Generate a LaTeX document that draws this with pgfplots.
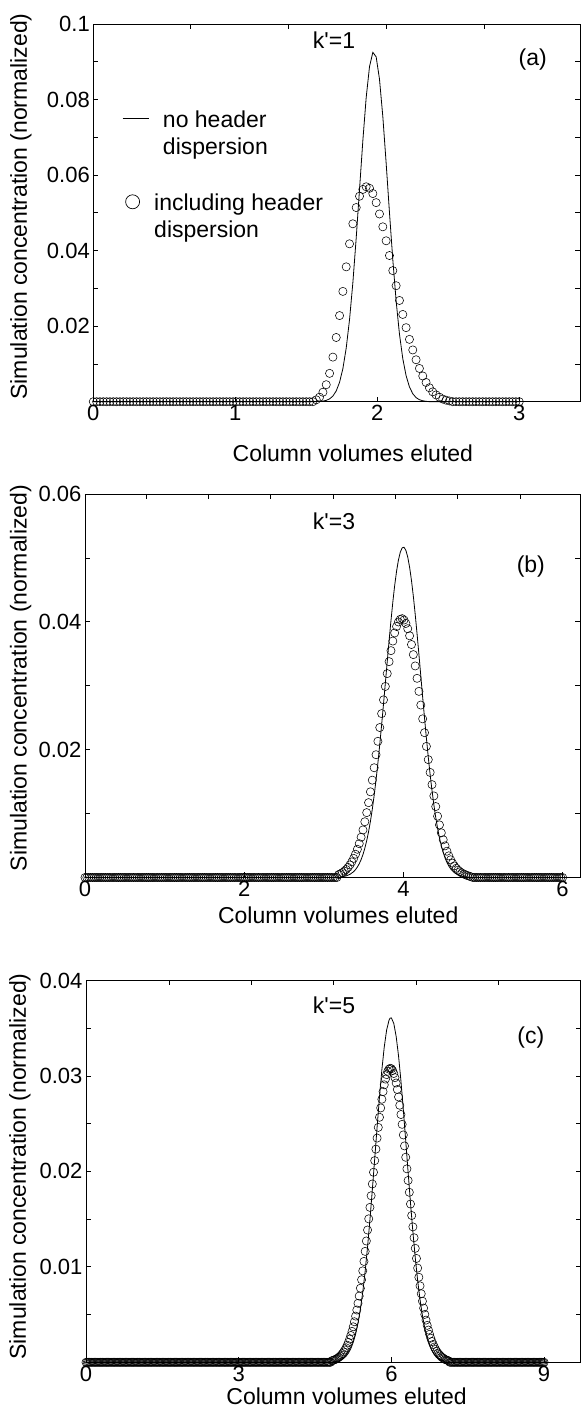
\documentclass[border=0pt]{standalone}
\usepackage{fontspec}
\setmainfont{Liberation Sans}
\usepackage{pgfplots}
\pgfplotsset{compat=1.18}
\pgfplotsset{
  panel/.style={
    scale only axis, clip=false,
    axis line style={line width=0.8pt},
    tick style={line width=0.7pt, black},
    tick align=inside, major tick length=5pt,
    tick label style={font=\fontsize{22}{24}\selectfont},
    label style={font=\fontsize{23}{26}\selectfont},
    /pgf/number format/assume math mode=true,
    scaled ticks=false,
    xtick pos=left, ymin=0,
  },
  topticks/.style={
    scale only axis,
    axis x line*=top, hide y axis, ymin=0, ymax=1,
    xticklabels={}, tick align=inside, major tick length=5pt,
    tick style={line width=0.7pt, black},
    axis line style={draw=none},
  },
  leg/.style={legend style={draw=none, fill=none, anchor=north west,
    font=\fontsize{23}{26.7}\selectfont, inner sep=0pt}, legend cell align=left},
  circ/.style={only marks, mark=o, mark size=4.1pt, mark options={line width=0.55pt, black}, black},
  curve/.style={black, line width=0.8pt, mark=none},
}
\begin{document}
\begin{tikzpicture}
% ---------------- panel (a) ----------------
\begin{axis}[panel, leg, at={(93.3pt,1006.3pt)}, anchor=south west, width=487pt, height=377.7pt,
  xmin=0, xmax=3.43, ymax=0.1,
  xtick={0,1,2,3}, xticklabels={0,1,2,3},
  ytick={0,0.01,0.02,0.03,0.04,0.05,0.06,0.07,0.08,0.09,0.1},
  yticklabels={,,0.02,,0.04,,0.06,,0.08,,0.1},
  xlabel={Column volumes eluted}, ylabel={Simulation concentration (normalized)},
  xlabel style={at={(axis description cs:0.533,-0.136)}, anchor=center},
  ylabel style={at={(axis description cs:-0.1485,0.517)}, anchor=center},
  legend style={at={(axis description cs:0.0589,0.7816)}}]
\addplot[curve, legend image code/.code={\draw[black, line width=0.8pt] (0pt,0pt) -- (26pt,0pt);}] coordinates {
(0,0)(1.5469,0)(1.5703,0.00003)(1.5938,0.00007)(1.6172,0.00015)(1.6406,0.00035)(1.6641,0.00074)(1.6875,0.00149)(1.7109,0.00284)(1.7344,0.00514)(1.7578,0.00876)(1.7813,0.0142)(1.8047,0.02175)(1.8281,0.0315)(1.8516,0.0433)(1.875,0.0562)(1.8984,0.0691)(1.9219,0.0805)(1.9453,0.0887)(1.9688,0.0925)(1.9922,0.0913)(2.0156,0.0854)(2.0391,0.0755)(2.0625,0.0632)(2.0859,0.0501)(2.1094,0.0376)(2.1328,0.0267)(2.1563,0.0179)(2.1797,0.0114)(2.2031,0.00688)(2.2266,0.00392)(2.25,0.00211)(2.2734,0.00108)(2.2969,0.00052)(2.3203,0.00024)(2.3438,0.0001)(2.3672,0)(3,0)
};
\addlegendentry{\hspace{12pt}\begin{tabular}[t]{@{}l@{}}no header\\dispersion\end{tabular}}
\addplot[circ, forget plot] coordinates {
(0,0)(0.0234,0)(0.0469,0)(0.0703,0)(0.0938,0)(0.1172,0)(0.1406,0)(0.1641,0)(0.1875,0)(0.2109,0)(0.2344,0)(0.2578,0)(0.2813,0)(0.3047,0)(0.3281,0)(0.3516,0)
(0.375,0)(0.3984,0)(0.4219,0)(0.4453,0)(0.4688,0)(0.4922,0)(0.5156,0)(0.5391,0)(0.5625,0)(0.5859,0)(0.6094,0)(0.6328,0)(0.6563,0)(0.6797,0)(0.7031,0)(0.7266,0)
(0.75,0)(0.7734,0)(0.7969,0)(0.8203,0)(0.8438,0)(0.8672,0)(0.8906,0)(0.9141,0)(0.9375,0)(0.9609,0)(0.9844,0)(1.0078,0)(1.0313,0)(1.0547,0)(1.0781,0)(1.1016,0)
(1.125,0)(1.1484,0)(1.1719,0)(1.1953,0)(1.2188,0)(1.2422,0)(1.2656,0)(1.2891,0)(1.3125,0)(1.3359,0)(1.3594,0)(1.3828,0)(1.4063,0)(1.4297,0)(1.4531,0)(1.4766,0)
(1.5,0)(1.5234,0)(1.5469,0)
(1.5703,0.0005)(1.5938,0.0012)(1.6172,0.0025)(1.6406,0.0045)(1.6641,0.0075)(1.6875,0.0118)(1.7109,0.0170)(1.7344,0.0228)(1.7578,0.0292)(1.7813,0.0357)(1.8047,0.0418)(1.8281,0.0471)(1.8516,0.0514)(1.875,0.0544)(1.8984,0.0562)(1.9219,0.0569)(1.9453,0.0565)(1.9688,0.0551)(1.9922,0.0527)(2.0156,0.0497)(2.0391,0.0463)(2.0625,0.0426)(2.0859,0.0387)(2.1094,0.0347)(2.1328,0.0307)(2.1563,0.0268)(2.1797,0.0231)(2.2031,0.0196)(2.2266,0.0165)(2.25,0.0137)(2.2734,0.0111)(2.2969,0.0088)(2.3203,0.0068)(2.3438,0.0051)(2.3672,0.0037)(2.3906,0.0026)(2.4141,0.0018)(2.4375,0.0012)(2.4609,0.0007)(2.4844,0.0004)(2.5078,0.0002)
(2.5313,0)(2.5547,0)(2.5781,0)(2.6016,0)
(2.625,0)(2.6484,0)(2.6719,0)(2.6953,0)(2.7188,0)(2.7422,0)(2.7656,0)(2.7891,0)(2.8125,0)(2.8359,0)(2.8594,0)(2.8828,0)(2.9063,0)(2.9297,0)(2.9531,0)(2.9766,0)(3,0)
};
\end{axis}
\begin{axis}[topticks, leg, at={(93.3pt,1006.3pt)}, anchor=south west, width=487pt, height=377.7pt,
  xmin=0, xmax=3.43, xtick={0.681,1.373,2.061,2.751},
  legend style={at={(axis description cs:0.0598,0.5618)}}]
\addlegendimage{legend image code/.code={\path[draw=none] (0pt,0pt) -- (26pt,0pt); \draw[black, line width=0.7pt] (10pt,0pt) circle (7pt);}}
\addlegendentry{\hspace{3.6pt}\begin{tabular}[t]{@{}l@{}}including header\\dispersion\end{tabular}}
\end{axis}
% ---------------- panel (b) ----------------
\begin{axis}[panel, at={(85pt,530.5pt)}, anchor=south west, width=495.5pt, height=383.5pt,
  xmin=0, xmax=6.225, ymax=0.06,
  xtick={0,2,4,6}, xticklabels={0,2,4,6},
  ytick={0,0.01,0.02,0.03,0.04,0.05,0.06},
  yticklabels={,,0.02,,0.04,,0.06},
  xlabel={Column volumes eluted}, ylabel={Simulation concentration (normalized)},
  xlabel style={at={(axis description cs:0.511,-0.098)}, anchor=center},
  ylabel style={at={(axis description cs:-0.130,0.520)}, anchor=center}]
\addplot[curve] coordinates {
(0,0)(3.1875,0)(3.2344,0.00012)(3.2813,0.00025)(3.3281,0.00049)(3.375,0.00091)(3.3984,0.00123)(3.4219,0.00164)(3.4453,0.00215)(3.4688,0.0028)(3.4922,0.0036)(3.5156,0.00458)(3.5391,0.00576)(3.5625,0.00716)(3.5859,0.00879)(3.6094,0.01069)(3.6328,0.01284)(3.6563,0.01526)(3.6797,0.01791)(3.7031,0.0208)(3.7266,0.02389)(3.75,0.02711)(3.7734,0.03042)(3.7969,0.03376)(3.8203,0.03704)(3.8438,0.04018)(3.8672,0.04309)(3.8906,0.04569)(3.9141,0.0479)(3.9375,0.04965)(3.9609,0.05089)(3.9844,0.05157)(4.0078,0.05167)(4.0313,0.05118)(4.0547,0.05013)(4.0781,0.04854)(4.1016,0.04647)(4.125,0.044)(4.1484,0.04118)(4.1719,0.0381)(4.1953,0.03487)(4.2188,0.03153)(4.2422,0.0282)(4.2656,0.02494)(4.2891,0.0218)(4.3125,0.01885)(4.3359,0.01611)(4.3594,0.01361)(4.3828,0.01138)(4.4063,0.0094)(4.4297,0.00768)(4.4531,0.0062)(4.4766,0.00495)(4.5,0.00391)(4.5234,0.00305)(4.5469,0.00235)(4.5703,0.00179)(4.5938,0.00135)(4.6406,0.00075)(4.6875,0.00039)(4.7344,0.0002)(4.7813,0.00009)(4.8281,0)(6,0)
};
\addplot[circ] coordinates {
(0,0)(0.0234,0)(0.0469,0)(0.0703,0)(0.0938,0)(0.1172,0)(0.1406,0)(0.1641,0)(0.1875,0)(0.2109,0)(0.2344,0)(0.2578,0)(0.2813,0)(0.3047,0)(0.3281,0)(0.3516,0)
(0.375,0)(0.3984,0)(0.4219,0)(0.4453,0)(0.4688,0)(0.4922,0)(0.5156,0)(0.5391,0)(0.5625,0)(0.5859,0)(0.6094,0)(0.6328,0)(0.6563,0)(0.6797,0)(0.7031,0)(0.7266,0)
(0.75,0)(0.7734,0)(0.7969,0)(0.8203,0)(0.8438,0)(0.8672,0)(0.8906,0)(0.9141,0)(0.9375,0)(0.9609,0)(0.9844,0)(1.0078,0)(1.0313,0)(1.0547,0)(1.0781,0)(1.1016,0)
(1.125,0)(1.1484,0)(1.1719,0)(1.1953,0)(1.2188,0)(1.2422,0)(1.2656,0)(1.2891,0)(1.3125,0)(1.3359,0)(1.3594,0)(1.3828,0)(1.4063,0)(1.4297,0)(1.4531,0)(1.4766,0)
(1.5,0)(1.5234,0)(1.5469,0)(1.5703,0)(1.5938,0)(1.6172,0)(1.6406,0)(1.6641,0)(1.6875,0)(1.7109,0)(1.7344,0)(1.7578,0)(1.7813,0)(1.8047,0)(1.8281,0)(1.8516,0)
(1.875,0)(1.8984,0)(1.9219,0)(1.9453,0)(1.9688,0)(1.9922,0)(2.0156,0)(2.0391,0)(2.0625,0)(2.0859,0)(2.1094,0)(2.1328,0)(2.1563,0)(2.1797,0)(2.2031,0)(2.2266,0)
(2.25,0)(2.2734,0)(2.2969,0)(2.3203,0)(2.3438,0)(2.3672,0)(2.3906,0)(2.4141,0)(2.4375,0)(2.4609,0)(2.4844,0)(2.5078,0)(2.5313,0)(2.5547,0)(2.5781,0)(2.6016,0)
(2.625,0)(2.6484,0)(2.6719,0)(2.6953,0)(2.7188,0)(2.7422,0)(2.7656,0)(2.7891,0)(2.8125,0)(2.8359,0)(2.8594,0)(2.8828,0)(2.9063,0)(2.9297,0)(2.9531,0)(2.9766,0)
(3,0)(3.0234,0)(3.0469,0)(3.0703,0)(3.0938,0)(3.1172,0)(3.1406,0)(3.1641,0)
(3.1875,0.00046)(3.2109,0.0006)(3.2344,0.00077)(3.2578,0.00099)(3.2813,0.00125)(3.3047,0.00158)(3.3281,0.00197)(3.3516,0.00244)(3.375,0.00299)(3.3984,0.00364)(3.4219,0.00441)(3.4453,0.00529)(3.4688,0.0063)(3.4922,0.00744)(3.5156,0.00872)(3.5391,0.01015)(3.5625,0.01171)(3.5859,0.0134)(3.6094,0.01523)(3.6328,0.01717)(3.6563,0.01921)(3.6797,0.02131)(3.7031,0.02346)(3.7266,0.02564)(3.75,0.02779)(3.7734,0.02989)(3.7969,0.0319)(3.8203,0.03377)(3.8438,0.03549)(3.8672,0.03699)(3.8906,0.03826)(3.9141,0.03927)(3.9375,0.03998)(3.9609,0.04039)(3.9844,0.0405)(4.0078,0.04028)(4.0313,0.03975)(4.0547,0.03892)(4.0781,0.03782)(4.1016,0.03645)(4.125,0.03487)(4.1484,0.0331)(4.1719,0.03116)(4.1953,0.02912)(4.2188,0.02698)(4.2422,0.02482)(4.2656,0.02266)(4.2891,0.02051)(4.3125,0.01844)(4.3359,0.01644)(4.3594,0.01453)(4.3828,0.01276)(4.4063,0.0111)(4.4297,0.00959)(4.4531,0.00823)(4.4766,0.00699)(4.5,0.0059)(4.5234,0.00495)(4.5469,0.00411)(4.5703,0.00339)(4.5938,0.00277)(4.6172,0.00225)(4.6406,0.00181)(4.6641,0.00145)(4.6875,0.00115)(4.7109,0.0009)(4.7344,0.0007)(4.7578,0.00055)(4.7813,0.00042)(4.8047,0.0003)(4.8281,0.0002)(4.8516,0.0001)
(4.875,0)(4.8984,0)(4.9219,0)(4.9453,0)(4.9688,0)(4.9922,0)(5.0156,0)(5.0391,0)(5.0625,0)(5.0859,0)(5.1094,0)(5.1328,0)(5.1563,0)(5.1797,0)(5.2031,0)(5.2266,0)
(5.25,0)(5.2734,0)(5.2969,0)(5.3203,0)(5.3438,0)(5.3672,0)(5.3906,0)(5.4141,0)(5.4375,0)(5.4609,0)(5.4844,0)(5.5078,0)(5.5313,0)(5.5547,0)(5.5781,0)(5.6016,0)
(5.625,0)(5.6484,0)(5.6719,0)(5.6953,0)(5.7188,0)(5.7422,0)(5.7656,0)(5.7891,0)(5.8125,0)(5.8359,0)(5.8594,0)(5.8828,0)(5.9063,0)(5.9297,0)(5.9531,0)(5.9766,0)(6,0)
};
\end{axis}
\begin{axis}[topticks, at={(85pt,530.5pt)}, anchor=south west, width=495.5pt, height=383.5pt,
  xmin=0, xmax=6.225, xtick={0.766,1.549,2.333,3.120,3.894,4.682,5.474}]
\end{axis}
% ---------------- panel (c) ----------------
\begin{axis}[panel, at={(86pt,45.7pt)}, anchor=south west, width=494.5pt, height=381.8pt,
  xmin=0, xmax=9.715, ymax=0.04,
  xtick={0,3,6,9}, xticklabels={0,3,6,9},
  ytick={0,0.005,0.01,0.015,0.02,0.025,0.03,0.035,0.04},
  yticklabels={,,0.01,,0.02,,0.03,,0.04},
  xlabel={Column volumes eluted}, ylabel={Simulation concentration (normalized)},
  xlabel style={at={(axis description cs:0.527,-0.088)}, anchor=center},
  ylabel style={at={(axis description cs:-0.1335,0.513)}, anchor=center}]
\addplot[curve] coordinates {
(0,0)(4.8281,0)(4.875,0.00006)(4.9219,0.0001)(4.9688,0.00016)(5.0156,0.00026)(5.0625,0.00041)(5.1094,0.00064)(5.1563,0.00097)(5.2031,0.00144)(5.25,0.00209)(5.2969,0.00296)(5.3438,0.00411)(5.3906,0.00557)(5.4375,0.00738)(5.4844,0.00954)(5.5313,0.01208)(5.5781,0.01493)(5.625,0.01805)(5.6719,0.02132)(5.7188,0.02462)(5.7656,0.02778)(5.8125,0.03064)(5.8594,0.03303)(5.9063,0.03481)(5.9531,0.03584)(5.9766,0.03607)(6,0.03608)(6.0469,0.0355)(6.0938,0.03413)(6.1406,0.03208)(6.1875,0.02947)(6.2344,0.02646)(6.2813,0.02322)(6.3281,0.01992)(6.375,0.0167)(6.4219,0.01368)(6.4688,0.01095)(6.5156,0.00857)(6.5625,0.00656)(6.6094,0.00491)(6.6563,0.00358)(6.7031,0.00256)(6.75,0.00179)(6.7969,0.00122)(6.8438,0.00081)(6.8906,0.00053)(6.9375,0.00034)(6.9844,0.00021)(7.0313,0.00013)(7.0781,0)(9,0)
};
\addplot[circ] coordinates {
(0,0)(0.0234,0)(0.0469,0)(0.0703,0)(0.0938,0)(0.1172,0)(0.1406,0)(0.1641,0)(0.1875,0)(0.2109,0)(0.2344,0)(0.2578,0)(0.2813,0)(0.3047,0)(0.3281,0)(0.3516,0)
(0.375,0)(0.3984,0)(0.4219,0)(0.4453,0)(0.4688,0)(0.4922,0)(0.5156,0)(0.5391,0)(0.5625,0)(0.5859,0)(0.6094,0)(0.6328,0)(0.6563,0)(0.6797,0)(0.7031,0)(0.7266,0)
(0.75,0)(0.7734,0)(0.7969,0)(0.8203,0)(0.8438,0)(0.8672,0)(0.8906,0)(0.9141,0)(0.9375,0)(0.9609,0)(0.9844,0)(1.0078,0)(1.0313,0)(1.0547,0)(1.0781,0)(1.1016,0)
(1.125,0)(1.1484,0)(1.1719,0)(1.1953,0)(1.2188,0)(1.2422,0)(1.2656,0)(1.2891,0)(1.3125,0)(1.3359,0)(1.3594,0)(1.3828,0)(1.4063,0)(1.4297,0)(1.4531,0)(1.4766,0)
(1.5,0)(1.5234,0)(1.5469,0)(1.5703,0)(1.5938,0)(1.6172,0)(1.6406,0)(1.6641,0)(1.6875,0)(1.7109,0)(1.7344,0)(1.7578,0)(1.7813,0)(1.8047,0)(1.8281,0)(1.8516,0)
(1.875,0)(1.8984,0)(1.9219,0)(1.9453,0)(1.9688,0)(1.9922,0)(2.0156,0)(2.0391,0)(2.0625,0)(2.0859,0)(2.1094,0)(2.1328,0)(2.1563,0)(2.1797,0)(2.2031,0)(2.2266,0)
(2.25,0)(2.2734,0)(2.2969,0)(2.3203,0)(2.3438,0)(2.3672,0)(2.3906,0)(2.4141,0)(2.4375,0)(2.4609,0)(2.4844,0)(2.5078,0)(2.5313,0)(2.5547,0)(2.5781,0)(2.6016,0)
(2.625,0)(2.6484,0)(2.6719,0)(2.6953,0)(2.7188,0)(2.7422,0)(2.7656,0)(2.7891,0)(2.8125,0)(2.8359,0)(2.8594,0)(2.8828,0)(2.9063,0)(2.9297,0)(2.9531,0)(2.9766,0)
(3,0)(3.0234,0)(3.0469,0)(3.0703,0)(3.0938,0)(3.1172,0)(3.1406,0)(3.1641,0)(3.1875,0)(3.2109,0)(3.2344,0)(3.2578,0)(3.2813,0)(3.3047,0)(3.3281,0)(3.3516,0)
(3.375,0)(3.3984,0)(3.4219,0)(3.4453,0)(3.4688,0)(3.4922,0)(3.5156,0)(3.5391,0)(3.5625,0)(3.5859,0)(3.6094,0)(3.6328,0)(3.6563,0)(3.6797,0)(3.7031,0)(3.7266,0)
(3.75,0)(3.7734,0)(3.7969,0)(3.8203,0)(3.8438,0)(3.8672,0)(3.8906,0)(3.9141,0)(3.9375,0)(3.9609,0)(3.9844,0)(4.0078,0)(4.0313,0)(4.0547,0)(4.0781,0)(4.1016,0)
(4.125,0)(4.1484,0)(4.1719,0)(4.1953,0)(4.2188,0)(4.2422,0)(4.2656,0)(4.2891,0)(4.3125,0)(4.3359,0)(4.3594,0)(4.3828,0)(4.4063,0)(4.4297,0)(4.4531,0)(4.4766,0)
(4.5,0)(4.5234,0)(4.5469,0)(4.5703,0)(4.5938,0)(4.6172,0)(4.6406,0)(4.6641,0)(4.6875,0)(4.7109,0)(4.7344,0)(4.7578,0)(4.7813,0)(4.8047,0)
(4.8281,0.00016)(4.8516,0.0002)(4.875,0.00024)(4.8984,0.0003)(4.9219,0.00036)(4.9453,0.00044)(4.9688,0.00053)(4.9922,0.00064)(5.0156,0.00077)(5.0391,0.00092)(5.0625,0.00109)(5.0859,0.00129)(5.1094,0.00152)(5.1328,0.00179)(5.1563,0.00209)(5.1797,0.00243)(5.2031,0.00281)(5.2266,0.00324)(5.25,0.00372)(5.2734,0.00425)(5.2969,0.00484)(5.3203,0.00548)(5.3438,0.00618)(5.3672,0.00694)(5.3906,0.00776)(5.4141,0.00865)(5.4375,0.00958)(5.4609,0.01057)(5.4844,0.01162)(5.5078,0.01271)(5.5313,0.01386)(5.5547,0.01503)(5.5781,0.01623)(5.6016,0.01745)(5.625,0.01868)(5.6484,0.01991)(5.6719,0.02113)(5.6953,0.02233)(5.7188,0.02349)(5.7422,0.02461)(5.7656,0.02567)(5.7891,0.02665)(5.8125,0.02756)(5.8359,0.02836)(5.8594,0.02907)(5.8828,0.02967)(5.9063,0.03014)(5.9297,0.03049)(5.9531,0.03071)(5.9766,0.0308)(6,0.03075)(6.0234,0.03057)(6.0469,0.03026)(6.0703,0.02982)(6.0938,0.02926)(6.1172,0.02858)(6.1406,0.0278)(6.1641,0.02693)(6.1875,0.02596)(6.2109,0.02493)(6.2344,0.02382)(6.2578,0.02267)(6.2813,0.02148)(6.3047,0.02027)(6.3281,0.01905)(6.3516,0.01781)(6.375,0.01658)(6.3984,0.01538)(6.4219,0.01419)(6.4453,0.01305)(6.4688,0.01194)(6.4922,0.01088)(6.5156,0.00987)(6.5391,0.00891)(6.5625,0.00801)(6.5859,0.00718)(6.6094,0.0064)(6.6328,0.00568)(6.6563,0.00502)(6.6797,0.00442)(6.7031,0.00387)(6.7266,0.00338)(6.75,0.00293)(6.7734,0.00253)(6.7969,0.00218)(6.8203,0.00187)(6.8438,0.0016)(6.8672,0.00136)(6.8906,0.00115)(6.9141,0.00097)(6.9375,0.00081)(6.9609,0.00068)(6.9844,0.00056)(7.0078,0.00047)(7.0313,0.00038)(7.0547,0.0003)(7.0781,0.00025)(7.1016,0.0002)(7.125,0.00015)
(7.1484,0)(7.1719,0)(7.1953,0)(7.2188,0)(7.2422,0)(7.2656,0)(7.2891,0)(7.3125,0)(7.3359,0)(7.3594,0)(7.3828,0)(7.4063,0)(7.4297,0)(7.4531,0)(7.4766,0)
(7.5,0)(7.5234,0)(7.5469,0)(7.5703,0)(7.5938,0)(7.6172,0)(7.6406,0)(7.6641,0)(7.6875,0)(7.7109,0)(7.7344,0)(7.7578,0)(7.7813,0)(7.8047,0)(7.8281,0)(7.8516,0)
(7.875,0)(7.8984,0)(7.9219,0)(7.9453,0)(7.9688,0)(7.9922,0)(8.0156,0)(8.0391,0)(8.0625,0)(8.0859,0)(8.1094,0)(8.1328,0)(8.1563,0)(8.1797,0)(8.2031,0)(8.2266,0)
(8.25,0)(8.2734,0)(8.2969,0)(8.3203,0)(8.3438,0)(8.3672,0)(8.3906,0)(8.4141,0)(8.4375,0)(8.4609,0)(8.4844,0)(8.5078,0)(8.5313,0)(8.5547,0)(8.5781,0)(8.6016,0)
(8.625,0)(8.6484,0)(8.6719,0)(8.6953,0)(8.7188,0)(8.7422,0)(8.7656,0)(8.7891,0)(8.8125,0)(8.8359,0)(8.8594,0)(8.8828,0)(8.9063,0)(8.9297,0)(8.9531,0)(8.9766,0)(9,0)
};
\end{axis}
\begin{axis}[topticks, at={(86pt,45.7pt)}, anchor=south west, width=494.5pt, height=381.8pt,
  xmin=0, xmax=9.715, xtick={1.637,3.255,4.859,6.483,8.100}]
\end{axis}
% ---------------- panel annotations ----------------
\begin{scope}[every node/.style={font=\fontsize{23}{26}\selectfont}]
\node at (334pt,1368pt) {k\textquotesingle=1};
\node at (532.7pt,1348pt) {(a)};
\node at (334pt,886.3pt) {k\textquotesingle=3};
\node at (530.8pt,841.3pt) {(b)};
\node at (334pt,403pt) {k\textquotesingle=5};
\node at (530.8pt,370pt) {(c)};
\end{scope}
\pgfresetboundingbox
\path[use as bounding box] (0pt,0pt) rectangle (582pt,1408pt);
\end{tikzpicture}
\end{document}
